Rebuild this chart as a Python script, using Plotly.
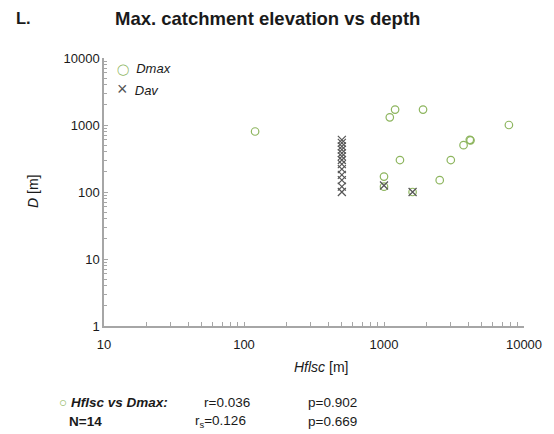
import plotly.graph_objects as go

# Dmax (circles)
hflsc_dmax = [120, 1000, 1000, 1100, 1200, 1300, 1600, 1900, 2500, 3000, 3700, 4100, 4150, 7800]
dmax = [800, 170, 120, 1300, 1700, 300, 100, 1700, 150, 300, 500, 600, 590, 1000]

# Dav (crosses)
hflsc_dav = [500] * 13 + [1000, 1600]
dav = [600, 540, 480, 430, 380, 340, 300, 260, 220, 180, 150, 120, 100, 125, 100]

x_tickvals = [10, 100, 1000, 10000]
x_ticktext = ["10", "100", "1000", "10000"]
y_tickvals = [1, 10, 100, 1000, 10000]
y_ticktext = ["1", "10", "100", "1000", "10000"]

minor_x = [m * 10 ** k for k in range(1, 4) for m in range(2, 10)]
minor_y = [m * 10 ** k for k in range(0, 4) for m in range(2, 10)]

FONT = "Liberation Sans, Arial, sans-serif"
GREEN = "#8db55e"
GREY = "#555555"
AXIS = "#a6a6a6"

fig = go.Figure()
fig.add_trace(go.Scatter(
    x=hflsc_dmax, y=dmax, mode="markers", name="Dmax",
    marker=dict(symbol="circle-open", size=7.5, color=GREEN, line=dict(width=1.2, color=GREEN)),
))
fig.add_trace(go.Scatter(
    x=hflsc_dav, y=dav, mode="markers", name="Dav",
    marker=dict(symbol="x-thin-open", size=8, color=GREY, line=dict(width=1.2, color=GREY)),
))

# page body has an 8px margin; figure sized to fit inside 554x434 window
fig.update_layout(
    width=546, height=426,
    margin=dict(l=96, r=30, t=50, b=108),
    paper_bgcolor="white", plot_bgcolor="white",
    font=dict(family=FONT, size=13, color="#1a1a1a"),
    showlegend=False,
)
fig.update_xaxes(
    type="log", range=[1, 4], tickvals=x_tickvals, ticktext=x_ticktext,
    showline=True, linecolor=AXIS, linewidth=1.5, showgrid=False, zeroline=False,
    ticks="inside", ticklen=4, tickcolor=AXIS, automargin=False, ticklabelstandoff=6,
    minor=dict(tickmode="array", tickvals=minor_x, ticks="inside", ticklen=4,
               tickcolor=AXIS, showgrid=False),
    tickfont=dict(size=13),
)
fig.update_yaxes(
    type="log", range=[0, 4], tickvals=y_tickvals, ticktext=y_ticktext,
    showline=True, linecolor=AXIS, linewidth=1.5, showgrid=False, zeroline=False,
    ticks="inside", ticklen=4, tickcolor=AXIS, automargin=False,
    minor=dict(tickmode="array", tickvals=minor_y, ticks="inside", ticklen=3,
               tickcolor=AXIS, showgrid=False),
    tickfont=dict(size=13),
)

# legend (as text)
fig.add_annotation(xref="paper", yref="paper", x=0.027, y=0.959,
                   text=f"<span style='color:{GREEN};font-size:11px'>◯</span>  <i>Dmax</i>",
                   showarrow=False, xanchor="left", yanchor="middle", font=dict(size=13))
fig.add_annotation(xref="paper", yref="paper", x=0.026, y=0.886,
                   text=f"<span style='color:{GREY};font-size:18px'>×</span>  <i>Dav</i>",
                   showarrow=False, xanchor="left", yanchor="middle", font=dict(size=13))

# axis titles
fig.add_annotation(xref="paper", yref="paper", x=0.517, y=-0.153, text="<i>Hflsc</i> [m]",
                   showarrow=False, xanchor="center", yanchor="middle", font=dict(size=14))
fig.add_annotation(xref="paper", yref="paper", x=-0.169, y=0.5, text="<i>D</i> [m]",
                   textangle=-90, showarrow=False, xanchor="center", yanchor="middle",
                   font=dict(size=14))

fig.add_annotation(xref="paper", yref="paper", x=-0.214, y=1.149, text="<b>L.</b>",
                   showarrow=False, xanchor="left", yanchor="middle", font=dict(size=16.5))
fig.add_annotation(xref="paper", yref="paper", x=0.39, y=1.149,
                   text="<b>Max. catchment elevation vs depth</b>",
                   showarrow=False, xanchor="center", yanchor="middle", font=dict(size=18.5))

# bottom stats
ann_y1 = -0.284
ann_y2 = -0.355
fig.add_annotation(xref="paper", yref="paper", x=-0.112, y=ann_y1,
                   text=f"<span style='color:{GREEN}'>○</span> <b><i>Hflsc vs Dmax:</i></b>",
                   showarrow=False, xanchor="left", yanchor="middle", font=dict(size=13.5))
fig.add_annotation(xref="paper", yref="paper", x=-0.089, y=ann_y2, text="<b>N=14</b>",
                   showarrow=False, xanchor="left", yanchor="middle", font=dict(size=13.5))
fig.add_annotation(xref="paper", yref="paper", x=0.233, y=ann_y1, text="r=0.036",
                   showarrow=False, xanchor="left", yanchor="middle", font=dict(size=13.5))
fig.add_annotation(xref="paper", yref="paper", x=0.212, y=ann_y2, text="r<sub>s</sub>=0.126",
                   showarrow=False, xanchor="left", yanchor="middle", font=dict(size=13.5))
fig.add_annotation(xref="paper", yref="paper", x=0.48, y=ann_y1, text="p=0.902",
                   showarrow=False, xanchor="left", yanchor="middle", font=dict(size=13.5))
fig.add_annotation(xref="paper", yref="paper", x=0.48, y=ann_y2, text="p=0.669",
                   showarrow=False, xanchor="left", yanchor="middle", font=dict(size=13.5))

fig.write_html("out.html")
